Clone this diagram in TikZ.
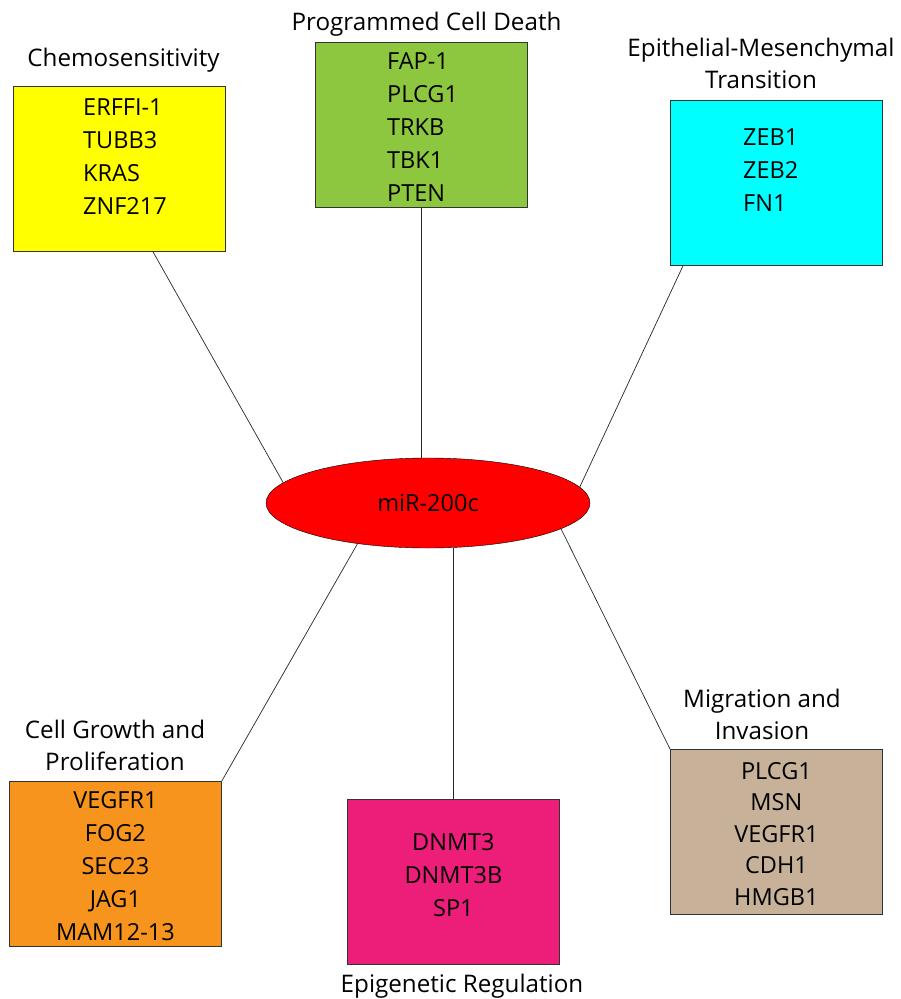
\documentclass[tikz,border=0pt]{standalone}
\usepackage{fontspec}
\setmainfont{Open Sans}
\usetikzlibrary{positioning}
\usetikzlibrary{calc}
\usetikzlibrary{shapes.geometric}
\definecolor{chemoyel}{HTML}{FFFF00}
\definecolor{pcdgreen}{HTML}{8DC63F}
\definecolor{emtcyan}{HTML}{00FFFF}
\definecolor{groworange}{HTML}{F7941E}
\definecolor{epipink}{HTML}{ED1E79}
\definecolor{migtan}{HTML}{C7B299}
\newcommand{\genefont}{\fontsize{23.5}{33}\selectfont}
\newcommand{\ttlfont}{\fontsize{24.2}{32}\selectfont}
\tikzset{%
  grp/.style = {rectangle,draw=black!80,line width=0.8pt,anchor=north west,
        inner sep=0pt,minimum width=212pt,minimum height=165pt},
  genes/.style = {inner sep=0pt,font=\genefont,anchor=north},
  ttl/.style = {inner sep=0pt,font=\ttlfont,align=center,anchor=north},
  hub/.style = {ellipse,draw,fill=red,inner sep=0pt,font=\genefont,
        minimum width=324pt,minimum height=90pt},
  link/.style = {draw=black!85,line width=0.7pt}
}

\begin{document}
\begin{tikzpicture}[x=1pt,y=-1pt]
    \useasboundingbox (0,0) rectangle (901,999);
    % boxes
    \node[grp,fill=chemoyel] (chemo) at (13,86) {};
    \node[grp,fill=pcdgreen] (pcd) at (315,42) {};
    \node[grp,fill=emtcyan] (emt) at (670,100) {};
    \node[grp,fill=groworange] (grow) at (9,781) {};
    \node[grp,fill=epipink] (epi) at (347,799) {};
    \node[grp,fill=migtan] (mig) at (670,749) {};
    % gene lists
    \node[genes,anchor=north west,align=left] (chemo-g) at ($(chemo.north west)+(70,13)$)
        {ERFFI-1\\TUBB3\\KRAS\\ZNF217};
    \node[genes,anchor=north west,align=left] (pcd-g) at ($(pcd.north west)+(72,10)$)
        {FAP-1\\PLCG1\\TRKB\\TBK1\\PTEN};
    \node[genes,anchor=north west,align=left] (emt-g) at ($(emt.north west)+(73,29)$)
        {ZEB1\\ZEB2\\FN1};
    \node[genes,align=center] (grow-g) at ($(grow.north)+(0,10)$)
        {VEGFR1\\FOG2\\SEC23\\JAG1\\MAM12-13};
    \node[genes,align=center] (epi-g) at ($(epi.north)+(0,34)$)
        {DNMT3\\DNMT3B\\SP1};
    \node[genes,align=center,font=\fontsize{23.5}{31.5}\selectfont] (mig-g) at ($(mig.north)+(0,13)$)
        {PLCG1\\MSN\\VEGFR1\\CDH1\\HMGB1};
    % titles
    \node[ttl] (chemo-t) at (123.5,48) {Chemosensitivity};
    \node[ttl] (pcd-t) at (426.5,12) {Programmed Cell Death};
    \node[ttl] (emt-t) at (761,38) {Epithelial-Mesenchymal\\Transition};
    \node[ttl] (grow-t) at (115,720) {Cell Growth and\\Proliferation};
    \node[ttl] (epi-t) at (462,974) {Epigenetic Regulation};
    \node[ttl] (mig-t) at (762,689) {Migration and\\Invasion};
    % centre
    \node[hub] (hub) at (428,503) {miR-200c};
    % links
    \draw[link] ($(chemo.south west)+(140,0)$) -- (hub.172);
    \draw[link] (pcd.south) -- (pcd.south |- hub.north);
    \draw[link] ($(emt.south west)+(13,0)$) -- (hub.6);
    \draw[link] (grow.north east) -- (hub.210);
    \draw[link] (epi.north) -- (epi.north |- hub.south);
    \draw[link] (mig.north west) -- (hub.-11);
\end{tikzpicture}
\end{document}
